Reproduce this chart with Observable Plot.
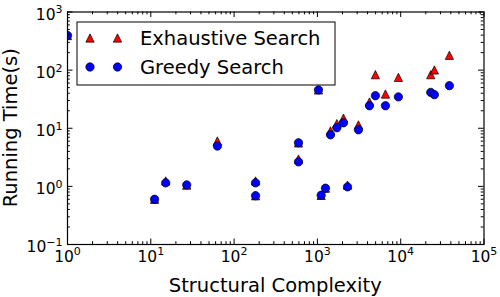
<!DOCTYPE html>
<html><head><meta charset="utf-8">
<script src="https://cdn.jsdelivr.net/npm/d3@7"></script>
<script src="https://cdn.jsdelivr.net/npm/@observablehq/plot@0.6"></script>
<style>body{margin:0;background:#fff;} svg{display:block;}</style>
</head><body><div id="chart"></div>
<script>
// Data
const complexity     = [1, 11.1, 15.1, 27, 63, 181, 181, 593, 593, 1030, 1110, 1250, 1436, 1713, 2055, 2300, 3110, 4220, 4970, 6560, 9380, 22950, 25360, 38400];
const exhaustiveTime = [394, 0.6, 1.24, 1.05, 6.04, 1.24, 0.69, 5.6, 2.95, 45.6, 0.7, 0.93, 9.0, 12.0, 14.9, 1.05, 11.4, 28.3, 83.5, 38.8, 75.0, 83.5, 100.6, 180];
const greedyTime     = [394, 0.6, 1.15, 1.06, 4.94, 1.15, 0.69, 5.62, 2.64, 45.6, 0.705, 0.93, 7.71, 10.2, 12.4, 0.98, 9.4, 24.4, 36.3, 24.4, 34.6, 41.4, 37.8, 54];
const seriesNames = ["Exhaustive Search", "Greedy Search"];
const xTicks = [1, 10, 100, 1000, 10000, 100000];
const yTicks = [0.1, 1, 10, 100, 1000];
const xLabel = "Structural Complexity";
const yLabel = "Running Time(s)";

const rows = complexity.map((c, i) => ({c, e: exhaustiveTime[i], g: greedyTime[i]}));
const xMinor = xTicks.slice(0, -1).flatMap(k => d3.range(2, 10).map(m => m * k));
const yMinor = yTicks.slice(0, -1).flatMap(k => d3.range(2, 10).map(m => +(m * k).toPrecision(3)));

const W = 500, H = 297, mL = 67, mR = 16.5, mT = 11.5, mB = 53;
const fw = W - mL - mR, fh = H - mT - mB;
const MAJ = 5.5, MIN = 2.8;

const triangleUp = {draw(ctx, size) { const a = Math.sqrt(size / 2); ctx.moveTo(0, -a); ctx.lineTo(a, a); ctx.lineTo(-a, a); ctx.closePath(); }};
const RED = "#ff0000", BLUE = "#0000ff";
const triR = 3.31, circR = 4.17;

const chart = Plot.plot({
  width: W, height: H, marginLeft: mL, marginRight: mR, marginTop: mT, marginBottom: mB,
  style: {fontFamily: "DejaVu Sans", background: "white", color: "black"},
  x: {type: "log", domain: [1, 1e5]},
  y: {type: "log", domain: [0.1, 1000]},
  marks: [
    Plot.dot(rows, {x: "c", y: "e", symbol: triangleUp, r: triR, fill: RED, stroke: "black", strokeWidth: 0.7, clip: true}),
    Plot.dot(rows, {x: "c", y: "g", r: circR, fill: BLUE, stroke: "black", strokeWidth: 0.7, clip: true}),
    Plot.tickX(xTicks, {x: d => d, insetTop: fh - MAJ, stroke: "black"}),
    Plot.tickX(xTicks, {x: d => d, insetBottom: fh - MAJ, stroke: "black"}),
    Plot.tickX(xMinor, {x: d => d, insetTop: fh - MIN, stroke: "black"}),
    Plot.tickX(xMinor, {x: d => d, insetBottom: fh - MIN, stroke: "black"}),
    Plot.tickY(yTicks, {y: d => d, insetRight: fw - MAJ, stroke: "black"}),
    Plot.tickY(yTicks, {y: d => d, insetLeft: fw - MAJ, stroke: "black"}),
    Plot.tickY(yMinor, {y: d => d, insetRight: fw - MIN, stroke: "black"}),
    Plot.tickY(yMinor, {y: d => d, insetLeft: fw - MIN, stroke: "black"}),
    Plot.frame({stroke: "black", strokeWidth: 1.2}),
    Plot.axisX({ticks: xTicks, tickSize: 0, tickPadding: 6, fontSize: 15.5, label: null,
      tickFormat: d => String(Math.round(Math.log10(d)))}),
    Plot.axisY({ticks: yTicks, tickSize: 0, tickPadding: 5, fontSize: 15.5, label: null, dy: 3,
      tickFormat: d => String(Math.round(Math.log10(d)))})
  ]
});
document.getElementById("chart").appendChild(chart);

const svg = d3.select(chart);
svg.selectAll('g[aria-label="x-axis tick label"] text, g[aria-label="y-axis tick label"] text').each(function() {
  const t = d3.select(this);
  const e = t.text().replace("-", "\u2212");
  t.text("10");
  t.append("tspan").attr("font-size", 11).attr("dy", "-0.6em").text(e);
});

svg.append("text").attr("x", mL + fw / 2).attr("y", 292).attr("text-anchor", "middle")
  .attr("font-size", 19.5).attr("fill", "black").text(xLabel);
svg.append("text").attr("transform", `translate(17,${mT + fh / 2}) rotate(-90)`).attr("text-anchor", "middle")
  .attr("font-size", 19.5).attr("fill", "black").text(yLabel);

// Legend inside the axes
const lg = svg.append("g");
lg.append("rect").attr("x", 77).attr("y", 22).attr("width", 258).attr("height", 63)
  .attr("fill", "white").attr("stroke", "black").attr("stroke-width", 1);
const rowsY = [38, 67];
const mx = [90, 117.5];
mx.forEach(x => {
  lg.append("path").attr("d", d3.symbol(triangleUp, triR * triR * Math.PI)())
    .attr("transform", `translate(${x},${rowsY[0]})`).attr("fill", RED).attr("stroke", "black").attr("stroke-width", 0.7);
  lg.append("circle").attr("cx", x).attr("cy", rowsY[1]).attr("r", circR)
    .attr("fill", BLUE).attr("stroke", "black").attr("stroke-width", 0.7);
});
seriesNames.forEach((n, i) => {
  lg.append("text").attr("x", 140).attr("y", rowsY[i]).attr("dy", "0.35em").attr("text-anchor", "start")
    .attr("font-size", 19.5).attr("fill", "black").text(n);
});
</script>
</body></html>
